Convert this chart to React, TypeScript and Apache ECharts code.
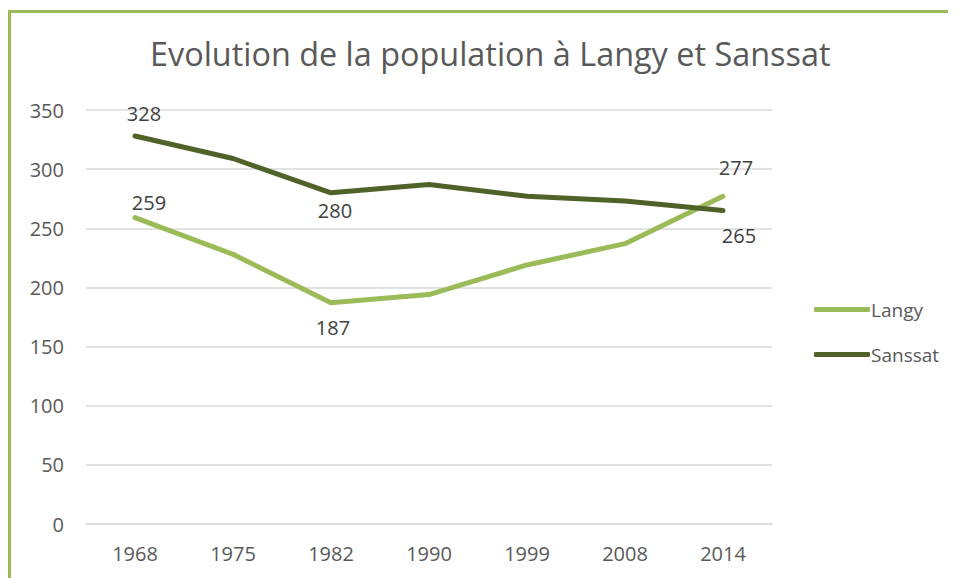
import React, { useEffect, useRef } from "react";
import * as echarts from "echarts";

const years = ["1968", "1975", "1982", "1990", "1999", "2008", "2014"];
const langy = [259, 228, 187, 194, 219, 237, 277];
const sanssat = [328, 309, 280, 287, 277, 273, 265];
// label placement (style only): offset of label centre from the point
const langyLabelOffsets: Record<number, number[]> = { 0: [14, -15], 2: [2, 25], 6: [13, -29] };
const sanssatLabelOffsets: Record<number, number[]> = { 0: [9, -23], 2: [4, 18], 6: [16, 25] };

const FONT = "'Open Sans', 'Noto Sans', sans-serif";

function withLabels(values: number[], offs: Record<number, number[]>) {
  return values.map((v, i) =>
    offs[i]
      ? { value: v, label: { show: true, position: "inside", offset: offs[i] } }
      : { value: v }
  );
}

export default function App() {
  const ref = useRef<HTMLDivElement>(null);
  useEffect(() => {
    const chart = echarts.init(ref.current!, null, { renderer: "svg" });
    chart.setOption({
      animation: false,
      backgroundColor: "#ffffff",
      title: {
        text: "Evolution de la population à Langy et Sanssat",
        left: 150,
        top: 37,
        textStyle: { fontFamily: FONT, fontSize: 32.4, fontWeight: "normal", color: "#595959" },
        padding: 0,
      },
      legend: {
        orient: "vertical",
        left: 809,
        top: 295,
        itemWidth: 56,
        itemHeight: 5,
        itemGap: 26,
        icon: "roundRect",
        textStyle: { fontFamily: FONT, fontSize: 19, color: "#595959", padding: [0, 0, 0, -4] },
        data: ["Langy", "Sanssat"],
      },
      grid: { left: 86, right: 185, top: 110, bottom: 54 },
      xAxis: {
        type: "category",
        data: years,
        boundaryGap: true,
        axisLine: { show: true, lineStyle: { color: "#d9d9d9", width: 1.5 } },
        axisTick: { show: false },
        axisLabel: { fontFamily: FONT, fontSize: 20, color: "#595959", margin: 19 },
      },
      yAxis: {
        type: "value",
        min: 0,
        max: 350,
        interval: 50,
        axisLine: { show: false },
        axisTick: { show: false },
        splitLine: { lineStyle: { color: "#d9d9d9", width: 1.5 } },
        axisLabel: { fontFamily: FONT, fontSize: 20, color: "#595959", margin: 22 },
      },
      series: [
        {
          name: "Langy",
          type: "line",
          data: withLabels(langy, langyLabelOffsets),
          symbol: "circle",
          symbolSize: 0,
          showSymbol: true,
          lineStyle: { color: "#9BBB59", width: 5, cap: "round" },
          itemStyle: { color: "#9BBB59" },
          label: { fontFamily: FONT, fontSize: 20, color: "#404040" },
        },
        {
          name: "Sanssat",
          type: "line",
          data: withLabels(sanssat, sanssatLabelOffsets),
          symbol: "circle",
          symbolSize: 0,
          showSymbol: true,
          lineStyle: { color: "#4F6228", width: 5, cap: "round" },
          itemStyle: { color: "#4F6228" },
          label: { fontFamily: FONT, fontSize: 20, color: "#404040" },
        },
      ],
      graphic: [
        { type: "line", shape: { x1: 9.5, y1: 11.5, x2: 9.5, y2: 578 }, style: { stroke: "#9BBB59", lineWidth: 3 } },
        { type: "line", shape: { x1: 8, y1: 11.5, x2: 948, y2: 11.5 }, style: { stroke: "#9BBB59", lineWidth: 3 } },
      ],
    });
    return () => chart.dispose();
  }, []);
  return (
    <div style={{ position: "absolute", left: 0, top: 0, width: 957, height: 578 }}>
      <div ref={ref} style={{ width: 957, height: 578 }} />
    </div>
  );
}
